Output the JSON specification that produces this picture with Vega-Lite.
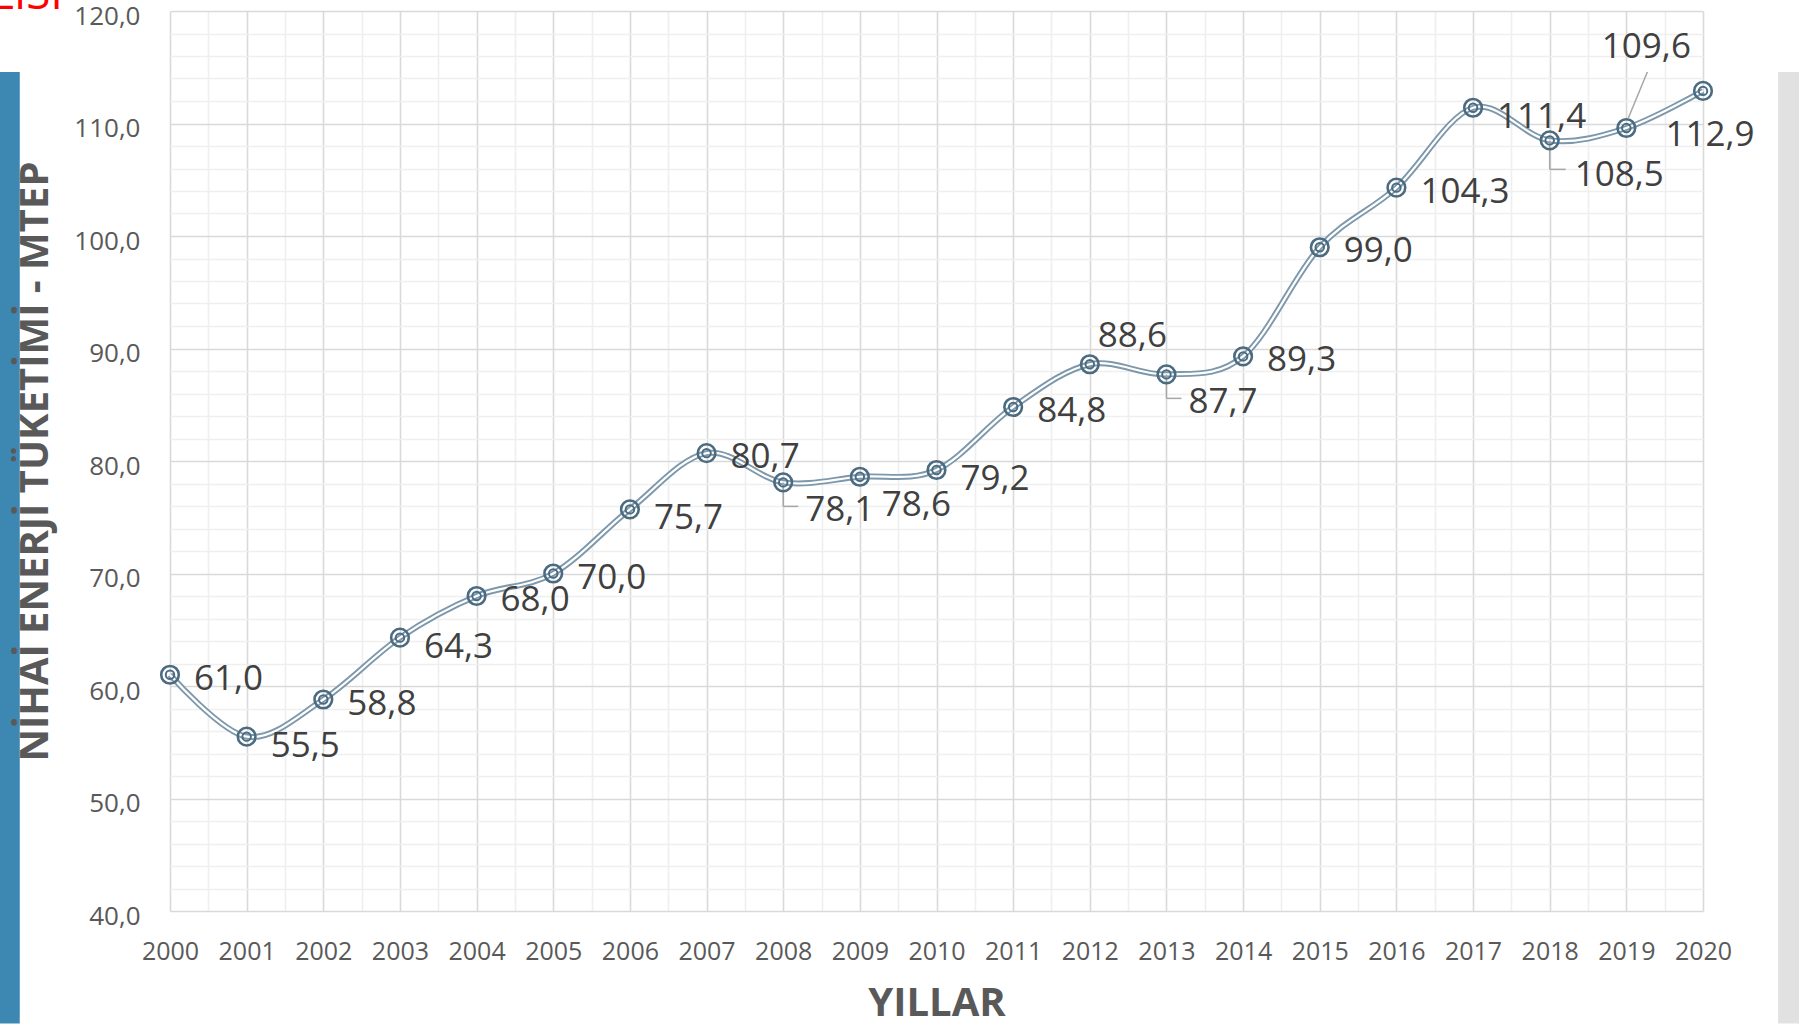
{
  "$schema": "https://vega.github.io/schema/vega-lite/v6.json",
  "width": 1533,
  "height": 900,
  "autosize": {"type": "none"},
  "padding": {"left": 170, "top": 11, "right": 96, "bottom": 116},
  "background": "white",
  "config": {
    "locale": {"number": {"decimal": ",", "thousands": ".", "grouping": [3], "currency": ["", ""]}},
    "font": "Open Sans",
    "view": {"stroke": null}
  },
  "resolve": {"axis": {"x": "independent", "y": "independent"}},
  "data": {
    "values": [
      {"year": 2000, "value": 61.0},
      {"year": 2001, "value": 55.5},
      {"year": 2002, "value": 58.8},
      {"year": 2003, "value": 64.3},
      {"year": 2004, "value": 68.0},
      {"year": 2005, "value": 70.0},
      {"year": 2006, "value": 75.7},
      {"year": 2007, "value": 80.7},
      {"year": 2008, "value": 78.1},
      {"year": 2009, "value": 78.6},
      {"year": 2010, "value": 79.2},
      {"year": 2011, "value": 84.8},
      {"year": 2012, "value": 88.6},
      {"year": 2013, "value": 87.7},
      {"year": 2014, "value": 89.3},
      {"year": 2015, "value": 99.0},
      {"year": 2016, "value": 104.3},
      {"year": 2017, "value": 111.4},
      {"year": 2018, "value": 108.5},
      {"year": 2019, "value": 109.6},
      {"year": 2020, "value": 112.9}
    ]
  },
  "layer": [
    {
      "mark": {"type": "line", "interpolate": "cardinal", "stroke": "#7d98ab", "strokeWidth": 6},
      "encoding": {
        "x": {
          "field": "year",
          "type": "quantitative",
          "scale": {"domain": [2000, 2020], "nice": false, "zero": false},
          "axis": {
            "orient": "bottom",
            "values": [2000.5, 2001.5, 2002.5, 2003.5, 2004.5, 2005.5, 2006.5, 2007.5, 2008.5, 2009.5, 2010.5, 2011.5, 2012.5, 2013.5, 2014.5, 2015.5, 2016.5, 2017.5, 2018.5, 2019.5],
            "grid": true,
            "gridColor": "#efefef",
            "gridWidth": 1.6,
            "labels": false,
            "ticks": false,
            "domain": false,
            "title": null
          }
        },
        "y": {
          "field": "value",
          "type": "quantitative",
          "scale": {"domain": [40, 120], "nice": false, "zero": false},
          "axis": {
            "orient": "left",
            "values": [40, 42, 44, 46, 48, 50, 52, 54, 56, 58, 60, 62, 64, 66, 68, 70, 72, 74, 76, 78, 80, 82, 84, 86, 88, 90, 92, 94, 96, 98, 100, 102, 104, 106, 108, 110, 112, 114, 116, 118, 120],
            "grid": true,
            "gridColor": {"condition": {"test": "datum.value % 10 === 0", "value": "#d9d9d9"}, "value": "#efefef"},
            "gridWidth": 1.6,
            "labels": false,
            "ticks": false,
            "domain": false,
            "title": null
          }
        }
      }
    },
    {
      "mark": {"type": "line", "interpolate": "cardinal", "stroke": "#ffffff", "strokeWidth": 2.2},
      "encoding": {
        "x": {
          "field": "year",
          "type": "quantitative",
          "axis": {
            "orient": "bottom",
            "values": [2000, 2001, 2002, 2003, 2004, 2005, 2006, 2007, 2008, 2009, 2010, 2011, 2012, 2013, 2014, 2015, 2016, 2017, 2018, 2019, 2020],
            "format": "d",
            "grid": true,
            "gridColor": "#d9d9d9",
            "gridWidth": 1.6,
            "ticks": false,
            "domain": false,
            "labelFlush": false,
            "labelOverlap": false,
            "labelFontSize": 25,
            "labelColor": "#595959",
            "labelPadding": 28,
            "title": "YILLAR",
            "titleFontSize": 40,
            "titleFontWeight": "bold",
            "titleColor": "#595959",
            "titlePadding": 19
          }
        },
        "y": {
          "field": "value",
          "type": "quantitative",
          "axis": {
            "orient": "left",
            "values": [40, 50, 60, 70, 80, 90, 100, 110, 120],
            "format": ".1f",
            "grid": false,
            "ticks": false,
            "domain": false,
            "labelFlush": false,
            "labelOverlap": false,
            "labelFontSize": 26,
            "labelColor": "#595959",
            "labelPadding": 30,
            "labelOffset": 5,
            "title": "NİHAİ ENERJİ TÜKETİMİ - MTEP",
            "titleFontSize": 40,
            "titleFontWeight": "bold",
            "titleColor": "#595959",
            "titlePadding": 18,
            "zindex": 1
          }
        }
      }
    },
    {
      "data": {"values": [{}]},
      "mark": {"type": "rect", "color": "#3d87b3"},
      "encoding": {
        "x": {"datum": 1997.78, "type": "quantitative", "axis": null},
        "x2": {"datum": 1998.04},
        "y": {"datum": 114.58, "type": "quantitative", "axis": null},
        "y2": {"datum": 30}
      }
    },
    {
      "data": {"values": [{}]},
      "mark": {"type": "rect", "color": "#e1e1e1"},
      "encoding": {
        "x": {"datum": 2020.98, "type": "quantitative", "axis": null},
        "x2": {"datum": 2023},
        "y": {"datum": 114.58, "type": "quantitative", "axis": null},
        "y2": {"datum": 30}
      }
    },
    {
      "data": {"values": [{}]},
      "mark": {"type": "text", "text": "LİSİ", "color": "#ff0000", "fontSize": 44, "align": "right", "baseline": "alphabetic"},
      "encoding": {
        "x": {"datum": 1998.6, "type": "quantitative", "axis": null},
        "y": {"datum": 120.15, "type": "quantitative", "axis": null}
      }
    },
    {
      "transform": [{"filter": {"field": "year", "oneOf": [2008, 2013]}}],
      "mark": {"type": "rule", "stroke": "#a6a6a6", "strokeWidth": 1.5, "y2Offset": 24},
      "encoding": {
        "x": {"field": "year", "type": "quantitative", "axis": null},
        "y": {"field": "value", "type": "quantitative", "axis": null},
        "y2": {"field": "value"}
      }
    },
    {
      "transform": [{"filter": {"field": "year", "oneOf": [2008, 2013]}}],
      "mark": {"type": "rule", "stroke": "#a6a6a6", "strokeWidth": 1.5, "yOffset": 24, "x2Offset": 15},
      "encoding": {
        "x": {"field": "year", "type": "quantitative", "axis": null},
        "x2": {"field": "year"},
        "y": {"field": "value", "type": "quantitative", "axis": null}
      }
    },
    {
      "transform": [{"filter": {"field": "year", "oneOf": [2018]}}],
      "mark": {"type": "rule", "stroke": "#a6a6a6", "strokeWidth": 1.5, "y2Offset": 29},
      "encoding": {
        "x": {"field": "year", "type": "quantitative", "axis": null},
        "y": {"field": "value", "type": "quantitative", "axis": null},
        "y2": {"field": "value"}
      }
    },
    {
      "transform": [{"filter": {"field": "year", "oneOf": [2018]}}],
      "mark": {"type": "rule", "stroke": "#a6a6a6", "strokeWidth": 1.5, "yOffset": 29, "x2Offset": 16},
      "encoding": {
        "x": {"field": "year", "type": "quantitative", "axis": null},
        "x2": {"field": "year"},
        "y": {"field": "value", "type": "quantitative", "axis": null}
      }
    },
    {
      "transform": [{"filter": {"field": "year", "oneOf": [2019]}}],
      "mark": {"type": "rule", "stroke": "#a6a6a6", "strokeWidth": 1.5, "xOffset": 2, "yOffset": -10, "x2Offset": 21, "y2Offset": -56},
      "encoding": {
        "x": {"field": "year", "type": "quantitative", "axis": null},
        "x2": {"field": "year"},
        "y": {"field": "value", "type": "quantitative", "axis": null},
        "y2": {"field": "value"}
      }
    },
    {
      "mark": {"type": "point", "shape": "circle", "filled": false, "size": 310, "stroke": "#4b6b80", "strokeWidth": 2.6, "opacity": 1},
      "encoding": {
        "x": {"field": "year", "type": "quantitative", "axis": null},
        "y": {"field": "value", "type": "quantitative", "axis": null}
      }
    },
    {
      "mark": {"type": "point", "shape": "circle", "filled": false, "size": 72, "stroke": "#4b6b80", "strokeWidth": 2, "opacity": 1},
      "encoding": {
        "x": {"field": "year", "type": "quantitative", "axis": null},
        "y": {"field": "value", "type": "quantitative", "axis": null}
      }
    },
    {
      "transform": [{"filter": {"field": "year", "oneOf": [2000, 2002, 2004, 2005, 2007, 2011, 2014, 2015, 2016]}}],
      "mark": {"type": "text", "align": "left", "baseline": "middle", "dx": 24, "dy": 4, "fontSize": 35, "color": "#404040"},
      "encoding": {
        "x": {"field": "year", "type": "quantitative", "axis": null},
        "y": {"field": "value", "type": "quantitative", "axis": null},
        "text": {"field": "value", "type": "quantitative", "format": ".1f"}
      }
    },
    {
      "transform": [{"filter": {"field": "year", "oneOf": [2001, 2003, 2006, 2010, 2017]}}],
      "mark": {"type": "text", "align": "left", "baseline": "middle", "dx": 24, "dy": 9, "fontSize": 35, "color": "#404040"},
      "encoding": {
        "x": {"field": "year", "type": "quantitative", "axis": null},
        "y": {"field": "value", "type": "quantitative", "axis": null},
        "text": {"field": "value", "type": "quantitative", "format": ".1f"}
      }
    },
    {
      "transform": [{"filter": {"field": "year", "oneOf": [2008, 2009, 2013]}}],
      "mark": {"type": "text", "align": "left", "baseline": "middle", "dx": 22, "dy": 28, "fontSize": 35, "color": "#404040"},
      "encoding": {
        "x": {"field": "year", "type": "quantitative", "axis": null},
        "y": {"field": "value", "type": "quantitative", "axis": null},
        "text": {"field": "value", "type": "quantitative", "format": ".1f"}
      }
    },
    {
      "transform": [{"filter": {"field": "year", "oneOf": [2018]}}],
      "mark": {"type": "text", "align": "left", "baseline": "middle", "dx": 25, "dy": 35, "fontSize": 35, "color": "#404040"},
      "encoding": {
        "x": {"field": "year", "type": "quantitative", "axis": null},
        "y": {"field": "value", "type": "quantitative", "axis": null},
        "text": {"field": "value", "type": "quantitative", "format": ".1f"}
      }
    },
    {
      "transform": [{"filter": {"field": "year", "oneOf": [2012]}}],
      "mark": {"type": "text", "align": "left", "baseline": "middle", "dx": 8, "dy": -28, "fontSize": 35, "color": "#404040"},
      "encoding": {
        "x": {"field": "year", "type": "quantitative", "axis": null},
        "y": {"field": "value", "type": "quantitative", "axis": null},
        "text": {"field": "value", "type": "quantitative", "format": ".1f"}
      }
    },
    {
      "transform": [{"filter": {"field": "year", "oneOf": [2019]}}],
      "mark": {"type": "text", "align": "center", "baseline": "middle", "dx": 20, "dy": -81, "fontSize": 35, "color": "#404040"},
      "encoding": {
        "x": {"field": "year", "type": "quantitative", "axis": null},
        "y": {"field": "value", "type": "quantitative", "axis": null},
        "text": {"field": "value", "type": "quantitative", "format": ".1f"}
      }
    },
    {
      "transform": [{"filter": {"field": "year", "oneOf": [2020]}}],
      "mark": {"type": "text", "align": "center", "baseline": "middle", "dx": 7, "dy": 44, "fontSize": 35, "color": "#404040"},
      "encoding": {
        "x": {"field": "year", "type": "quantitative", "axis": null},
        "y": {"field": "value", "type": "quantitative", "axis": null},
        "text": {"field": "value", "type": "quantitative", "format": ".1f"}
      }
    }
  ]
}
